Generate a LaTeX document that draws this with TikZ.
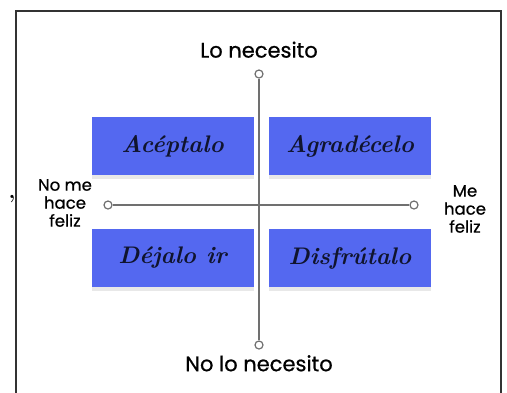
\documentclass[tikz,border=0pt]{standalone}
\usepackage{fontspec}
\newfontfamily\labelfont{Poppins}[FakeBold=0.7]
\usetikzlibrary{shadows}
\definecolor{boxblue}{HTML}{5468F0}
\definecolor{axisgray}{HTML}{707070}
\definecolor{inkblue}{HTML}{10142E}

\begin{document}
\begin{tikzpicture}[x=1pt,y=-1pt]
\tikzstyle{every node}+=[inner sep=0pt]
\tikzstyle{quad}=[fill=boxblue,minimum width=162pt,minimum height=58pt,
  drop shadow={shadow xshift=0pt,shadow yshift=-4pt,opacity=0.18}]
\tikzstyle{hand}=[text=inkblue,font=\fontsize{24}{24}\selectfont\bfseries\itshape]
\tikzstyle{axislabel}=[font=\labelfont\fontsize{16.5}{18}\selectfont,align=center]
\tikzstyle{poletext}=[font=\labelfont\fontsize{21}{24}\selectfont]
\tikzstyle{endpt}=[circle,draw=axisgray,line width=1.2pt,fill=white,minimum size=8pt]
\useasboundingbox (0,0) rectangle (507,392);
\draw [black!80,line width=1.3pt] (16,400) -- (16,11) -- (501,11) -- (501,400);
% quadrants
\node [quad] (accept) at (172.5,146) {};
\node [quad] (thank) at (350,146) {};
\node [quad] (letgo) at (172.5,258) {};
\node [quad] (enjoy) at (350,258) {};
% axes
\node [endpt] (top) at (259,74) {};
\node [endpt] (bottom) at (259,345) {};
\node [endpt] (left) at (108,205) {};
\node [endpt] (right) at (414,205) {};
\draw [axisgray,line width=1.3pt] (top) -- (bottom);
\draw [axisgray,line width=1.3pt] (left) -- (right);
\node [hand] at (accept) {Acéptalo};
\node [hand] at (thank) {Agradécelo};
\node [hand] at (letgo) {Déjalo ir};
\node [hand] at (enjoy) {Disfrútalo};
% labels
\node [poletext,above=16pt] at (top) {Lo necesito};
\node [poletext,below=10pt] at (bottom) {No lo necesito};
\node [axislabel] at (65,203) {No me\\hace\\feliz};
\node [axislabel] at (465,209) {Me\\hace\\feliz};
\node [font=\bfseries\fontsize{22}{22}\selectfont] at (12,199) {,};
\end{tikzpicture}
\end{document}
